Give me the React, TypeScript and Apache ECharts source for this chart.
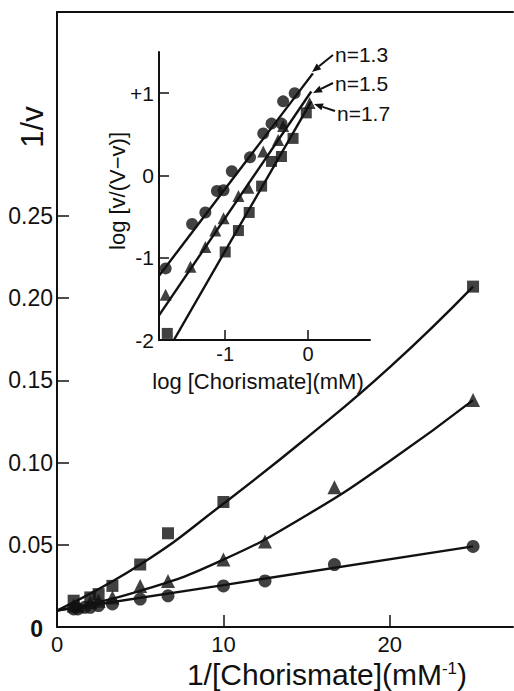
import { useEffect, useRef } from 'react';
import * as echarts from 'echarts';

const FONT = '"Liberation Sans", Arial, Helvetica, sans-serif';
const INK = '#111';

// ---- Lineweaver–Burk plot: 1/v against 1/[Chorismate] (mM^-1) ----
const sqX = [1, 2, 2.5, 3.33, 5, 6.67, 10, 25];
const sqY = [0.016, 0.018, 0.02, 0.025, 0.038, 0.057, 0.076, 0.207];
const triX = [1, 1.25, 2, 2.5, 3.33, 5, 6.67, 10, 12.5, 16.67, 25];
const triY = [0.013, 0.013, 0.015, 0.016, 0.018, 0.025, 0.028, 0.041, 0.052, 0.085, 0.138];
const cirX = [1, 1.25, 1.67, 2, 2.5, 3.33, 5, 6.67, 10, 12.5, 16.67, 25];
const cirY = [0.011, 0.011, 0.012, 0.012, 0.013, 0.014, 0.017, 0.019, 0.025, 0.028, 0.038, 0.049];

// fitted curves through each set
const sqFitX = [0, 5, 10, 15, 20, 25];
const sqFitY = [0.01, 0.038, 0.075, 0.115, 0.158, 0.207];
const triFitX = [0, 5, 10, 15, 20, 25];
const triFitY = [0.01, 0.022, 0.041, 0.068, 0.101, 0.138];
const cirFitX = [0, 10, 25];
const cirFitY = [0.01, 0.0255, 0.049];

const mainXTicks = [0, 10, 20];
const mainYTicks = [0.05, 0.1, 0.15, 0.2, 0.25];
const mainYLabels = [0, 0.05, 0.1, 0.15, 0.2, 0.25];

// ---- Hill plot (inset): log[v/(V-v)] against log[Chorismate] ----
const hCirX = [-1.72, -1.4, -1.24, -1.1, -1.02, -0.92, -0.7, -0.54, -0.44, -0.32, -0.3, -0.16];
const hCirY = [-1.13, -0.59, -0.45, -0.19, -0.18, 0.05, 0.22, 0.51, 0.63, 0.63, 0.9, 1.0];
const hTriX = [-1.72, -1.42, -1.24, -1.12, -1.02, -0.84, -0.72, -0.54, -0.36, -0.3, 0.02];
const hTriY = [-1.45, -1.11, -0.87, -0.67, -0.52, -0.25, -0.15, 0.29, 0.43, 0.6, 0.88];
const hSqX = [-1.7, -1.0, -0.84, -0.71, -0.56, -0.44, -0.32, -0.18, -0.02];
const hSqY = [-1.92, -0.93, -0.67, -0.45, -0.13, 0.17, 0.23, 0.45, 0.76];

const hCirFitX = [-1.8, 0.06];
const hCirFitY = [-1.22, 1.24];
const hTriFitX = [-1.8, 0.04];
const hTriFitY = [-1.7, 1.02];
const hSqFitX = [-1.62, 0.04];
const hSqFitY = [-2.0, 0.9];

const insetXTicks = [-1, 0];
const insetYTicks = [-2, -1, 0, 1];
const hillLabels = ['n=1.3', 'n=1.5', 'n=1.7'];

const pairs = (xs: number[], ys: number[]) => xs.map((x, i) => [x, ys[i]]);

function arrow(x1: number, y1: number, x2: number, y2: number) {
  const a = Math.atan2(y2 - y1, x2 - x1);
  const L = 9;
  const W = 3.6;
  const bx = x2 - L * Math.cos(a);
  const by = y2 - L * Math.sin(a);
  return {
    type: 'group',
    children: [
      { type: 'line', shape: { x1, y1, x2: bx, y2: by }, style: { stroke: INK, lineWidth: 2 } },
      {
        type: 'polygon',
        shape: {
          points: [
            [x2, y2],
            [bx + W * Math.sin(a), by - W * Math.cos(a)],
            [bx - W * Math.sin(a), by + W * Math.cos(a)],
          ],
        },
        style: { fill: INK },
      },
    ],
  };
}

function scatter(name: string, symbol: string, size: number, xs: number[], ys: number[], idx: number) {
  return {
    name,
    type: 'scatter',
    xAxisIndex: idx,
    yAxisIndex: idx,
    symbol,
    symbolSize: size,
    itemStyle: { color: INK },
    data: pairs(xs, ys),
    clip: false,
    z: 4,
  };
}

function fit(xs: number[], ys: number[], idx: number, smooth: boolean) {
  return {
    type: 'line',
    xAxisIndex: idx,
    yAxisIndex: idx,
    data: pairs(xs, ys),
    smooth,
    showSymbol: false,
    lineStyle: { color: INK, width: 2.4 },
    clip: false,
    z: 3,
  };
}

export default function App() {
  const ref = useRef<HTMLDivElement>(null);

  useEffect(() => {
    if (!ref.current) return;
    const chart = echarts.init(ref.current, undefined, { renderer: 'svg' });
    const axisLine = { show: true, onZero: false, lineStyle: { color: INK, width: 2 } };

    chart.setOption({
      animation: false,
      backgroundColor: '#fff',
      textStyle: { fontFamily: FONT },
      grid: [
        { left: 57, top: 12, right: 1, bottom: 64 },
        { left: 159, top: 52, width: 211, height: 288 },
      ],
      xAxis: [
        {
          type: 'value',
          gridIndex: 0,
          min: 0,
          max: 27.4,
          axisLine,
          splitLine: { show: false },
          axisTick: { show: true, inside: true, length: 12, customValues: mainXTicks, lineStyle: { color: INK, width: 1.5 } },
          axisLabel: { customValues: mainXTicks, color: INK, fontSize: 22, margin: 6, fontFamily: FONT },
        },
        {
          type: 'value',
          gridIndex: 1,
          min: -1.8,
          max: 0.75,
          axisLine,
          splitLine: { show: false },
          axisTick: { show: true, inside: true, length: 10, customValues: insetXTicks, lineStyle: { color: INK, width: 1.5 } },
          axisLabel: { customValues: insetXTicks, color: INK, fontSize: 20, margin: 4, fontFamily: FONT },
        },
        {
          type: 'value',
          gridIndex: 0,
          position: 'top',
          min: 0,
          max: 27.4,
          axisLine,
          splitLine: { show: false },
          axisTick: { show: false },
          axisLabel: { show: false },
        },
      ],
      yAxis: [
        {
          type: 'value',
          gridIndex: 0,
          min: 0,
          max: 0.374,
          axisLine,
          splitLine: { show: false },
          axisTick: { show: true, inside: true, length: 12, customValues: mainYTicks, lineStyle: { color: INK, width: 1.5 } },
          axisLabel: {
            customValues: mainYLabels,
            color: INK,
            fontSize: 23,
            margin: 4,
            fontFamily: FONT,
            formatter: (v: number) => (v === 0 ? '{z|0}' : v.toFixed(2)),
            rich: { z: { fontSize: 23, fontWeight: 'bold', color: INK, padding: [4, 10, 0, 0], fontFamily: FONT } },
          },
        },
        {
          type: 'value',
          gridIndex: 1,
          min: -2,
          max: 1.5,
          axisLine,
          splitLine: { show: false },
          axisTick: { show: true, inside: true, length: 10, customValues: [-1, 0, 1], lineStyle: { color: INK, width: 1.5 } },
          axisLabel: {
            customValues: insetYTicks,
            color: INK,
            fontSize: 21,
            margin: 5,
            fontFamily: FONT,
            formatter: (v: number) => (v > 0 ? '+' + v : String(v)),
          },
        },
      ],
      series: [
        fit(sqFitX, sqFitY, 0, true),
        fit(triFitX, triFitY, 0, true),
        fit(cirFitX, cirFitY, 0, true),
        scatter('squares', 'rect', 12, sqX, sqY, 0),
        scatter('triangles', 'triangle', 14, triX, triY, 0),
        scatter('circles', 'circle', 13, cirX, cirY, 0),
        fit(hCirFitX, hCirFitY, 1, false),
        fit(hTriFitX, hTriFitY, 1, false),
        fit(hSqFitX, hSqFitY, 1, false),
        scatter('hill circles', 'circle', 12, hCirX, hCirY, 1),
        scatter('hill triangles', 'triangle', 12, hTriX, hTriY, 1),
        scatter('hill squares', 'rect', 11, hSqX, hSqY, 1),
      ],
      graphic: [
        {
          type: 'text',
          x: 32,
          y: 127,
          rotation: Math.PI / 2,
          style: { text: '1/v', fontSize: 31, fontFamily: FONT, fill: INK, align: 'center', verticalAlign: 'middle' },
        },
        {
          type: 'text',
          x: 327,
          y: 689,
          style: {
            text: '{m|1/[Chorismate](mM}{sup|-1}{m|)}',
            fontFamily: FONT,
            fill: INK,
            align: 'center',
            verticalAlign: 'bottom',
            rich: {
              m: { fontSize: 30, lineHeight: 30, fontFamily: FONT, fill: INK },
              sup: { fontSize: 17, lineHeight: 17, fontFamily: FONT, fill: INK, padding: [0, 0, 12, 0] },
            },
          },
        },
        {
          type: 'text',
          x: 117,
          y: 191,
          rotation: Math.PI / 2,
          style: { text: 'log [v/(V\u2212v)]', fontSize: 22, fontFamily: FONT, fill: INK, align: 'center', verticalAlign: 'middle' },
        },
        {
          type: 'text',
          x: 258,
          y: 381,
          style: { text: 'log [Chorismate](mM)', fontSize: 22, fontFamily: FONT, fill: INK, align: 'center', verticalAlign: 'middle' },
        },
        { type: 'text', x: 335, y: 54, style: { text: hillLabels[0], fontSize: 21, fontFamily: FONT, fill: INK, verticalAlign: 'middle' } },
        { type: 'text', x: 335, y: 83, style: { text: hillLabels[1], fontSize: 21, fontFamily: FONT, fill: INK, verticalAlign: 'middle' } },
        { type: 'text', x: 337, y: 113, style: { text: hillLabels[2], fontSize: 21, fontFamily: FONT, fill: INK, verticalAlign: 'middle' } },
        arrow(333, 55, 312, 72),
        arrow(333, 83, 313, 93),
        arrow(335, 111, 314, 104),
      ],
    });

    return () => chart.dispose();
  }, []);

  return (
    <div
      ref={ref}
      style={{ position: 'fixed', left: 0, top: 0, width: 514, height: 691, background: '#fff' }}
    />
  );
}
